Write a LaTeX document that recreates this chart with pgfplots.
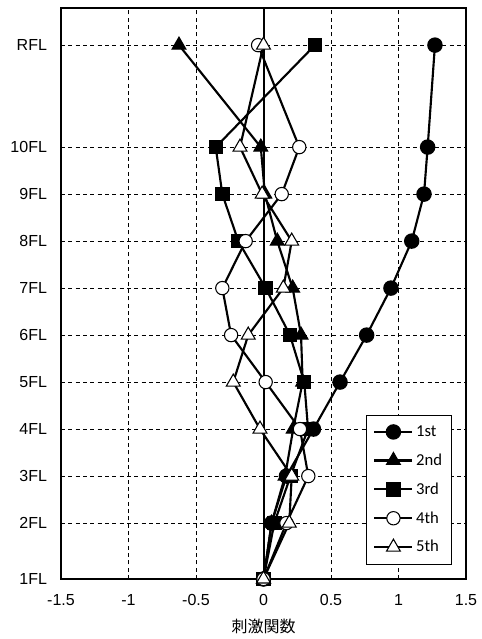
\documentclass[border=0pt]{standalone}
\usepackage{pgfplots}
\pgfplotsset{compat=1.18}
\usepackage{fontspec}
\setmainfont{Liberation Sans}
\newfontfamily\jp{Noto Sans CJK JP}
\newfontfamily\carlito{Carlito}
\begin{document}
\begin{tikzpicture}
\begin{axis}[
  scale only axis,
  width=303.75pt, height=428.25pt,
  xmin=-1.5, xmax=1.5, ymin=0, ymax=12.15,
  xtick={-1.5,-1,-0.5,0,0.5,1,1.5},
  xticklabels={-1.5,-1,-0.5,0,0.5,1,1.5},
  ytick={0,1.19,2.19,3.19,4.19,5.19,6.19,7.19,8.19,9.19,11.36},
  yticklabels={1FL,2FL,3FL,4FL,5FL,6FL,7FL,8FL,9FL,10FL,RFL},
  major tick length=0pt,
  tick label style={font=\fontsize{12}{14}\selectfont},
  yticklabel style={xshift=-7pt},
  xticklabel style={yshift=-8pt},
  /pgf/number format/assume math mode=true,
  grid=major,
  major grid style={black, line width=0.6pt, dash pattern=on 3pt off 2.5pt},
  axis line style={line width=1.2pt},
  xlabel={\jp 刺激関数},
  xlabel style={font=\fontsize{12}{14}\selectfont, yshift=-3pt},
  every axis plot/.append style={line width=1.6pt, black},
  legend style={at={(0.965,0.0245)}, anchor=south east, draw=black, line width=0.6pt,
    font=\carlito\fontsize{12.5}{14}\selectfont, row sep=7.5pt, inner xsep=5pt, inner ysep=6pt,
    legend cell align=left},
  legend image post style={line width=1.6pt},
  legend image code/.code={
    \draw[mark repeat=2,mark phase=2] plot coordinates {(0cm,0cm) (0.5cm,0cm) (1.0cm,0cm)};},
]
\addplot[line width=1.5pt, forget plot] coordinates {(0,0) (0,12.15)};
\addplot[mark=*, mark size=5pt, mark options={fill=black}] coordinates {
(0,0) (0.06,1.19) (0.17,2.19) (0.37,3.19) (0.567,4.19) (0.764,5.19) (0.944,6.19) (1.098,7.19) (1.189,8.19) (1.216,9.19) (1.27,11.36)};
\addlegendentry{1st}
\addplot[mark=triangle*, mark size=6pt, mark options={fill=black, line width=0.8pt}] coordinates {
(0,0) (0.06,1.19) (0.16,2.19) (0.22,3.19) (0.29,4.19) (0.278,5.19) (0.216,6.19) (0.102,7.19) (0.01,8.19) (-0.02,9.19) (-0.626,11.36)};
\addlegendentry{2nd}
\addplot[mark=square*, mark size=4.6pt, mark options={fill=black}] coordinates {
(0,0) (0.08,1.19) (0.2,2.19) (0.33,3.19) (0.302,4.19) (0.196,5.19) (0.016,6.19) (-0.187,7.19) (-0.305,8.19) (-0.354,9.19) (0.381,11.36)};
\addlegendentry{3rd}
\addplot[mark=*, mark size=5pt, mark options={fill=white, line width=0.8pt}] coordinates {
(0,0) (0.17,1.19) (0.332,2.19) (0.27,3.19) (0.016,4.19) (-0.24,5.19) (-0.305,6.19) (-0.132,7.19) (0.135,8.19) (0.265,9.19) (-0.04,11.36)};
\addlegendentry{4th}
\addplot[mark=triangle*, mark size=6pt, mark options={fill=white, line width=0.8pt}] coordinates {
(0,0) (0.191,1.19) (0.209,2.19) (-0.026,3.19) (-0.224,4.19) (-0.113,5.19) (0.147,6.19) (0.209,7.19) (-0.01,8.19) (-0.174,9.19) (0.0,11.36)};
\addlegendentry{5th}
\end{axis}
\path ([xshift=-45.75pt,yshift=-45pt]current axis.south west) rectangle ([xshift=9.75pt,yshift=6pt]current axis.north east);
\end{tikzpicture}
\end{document}
